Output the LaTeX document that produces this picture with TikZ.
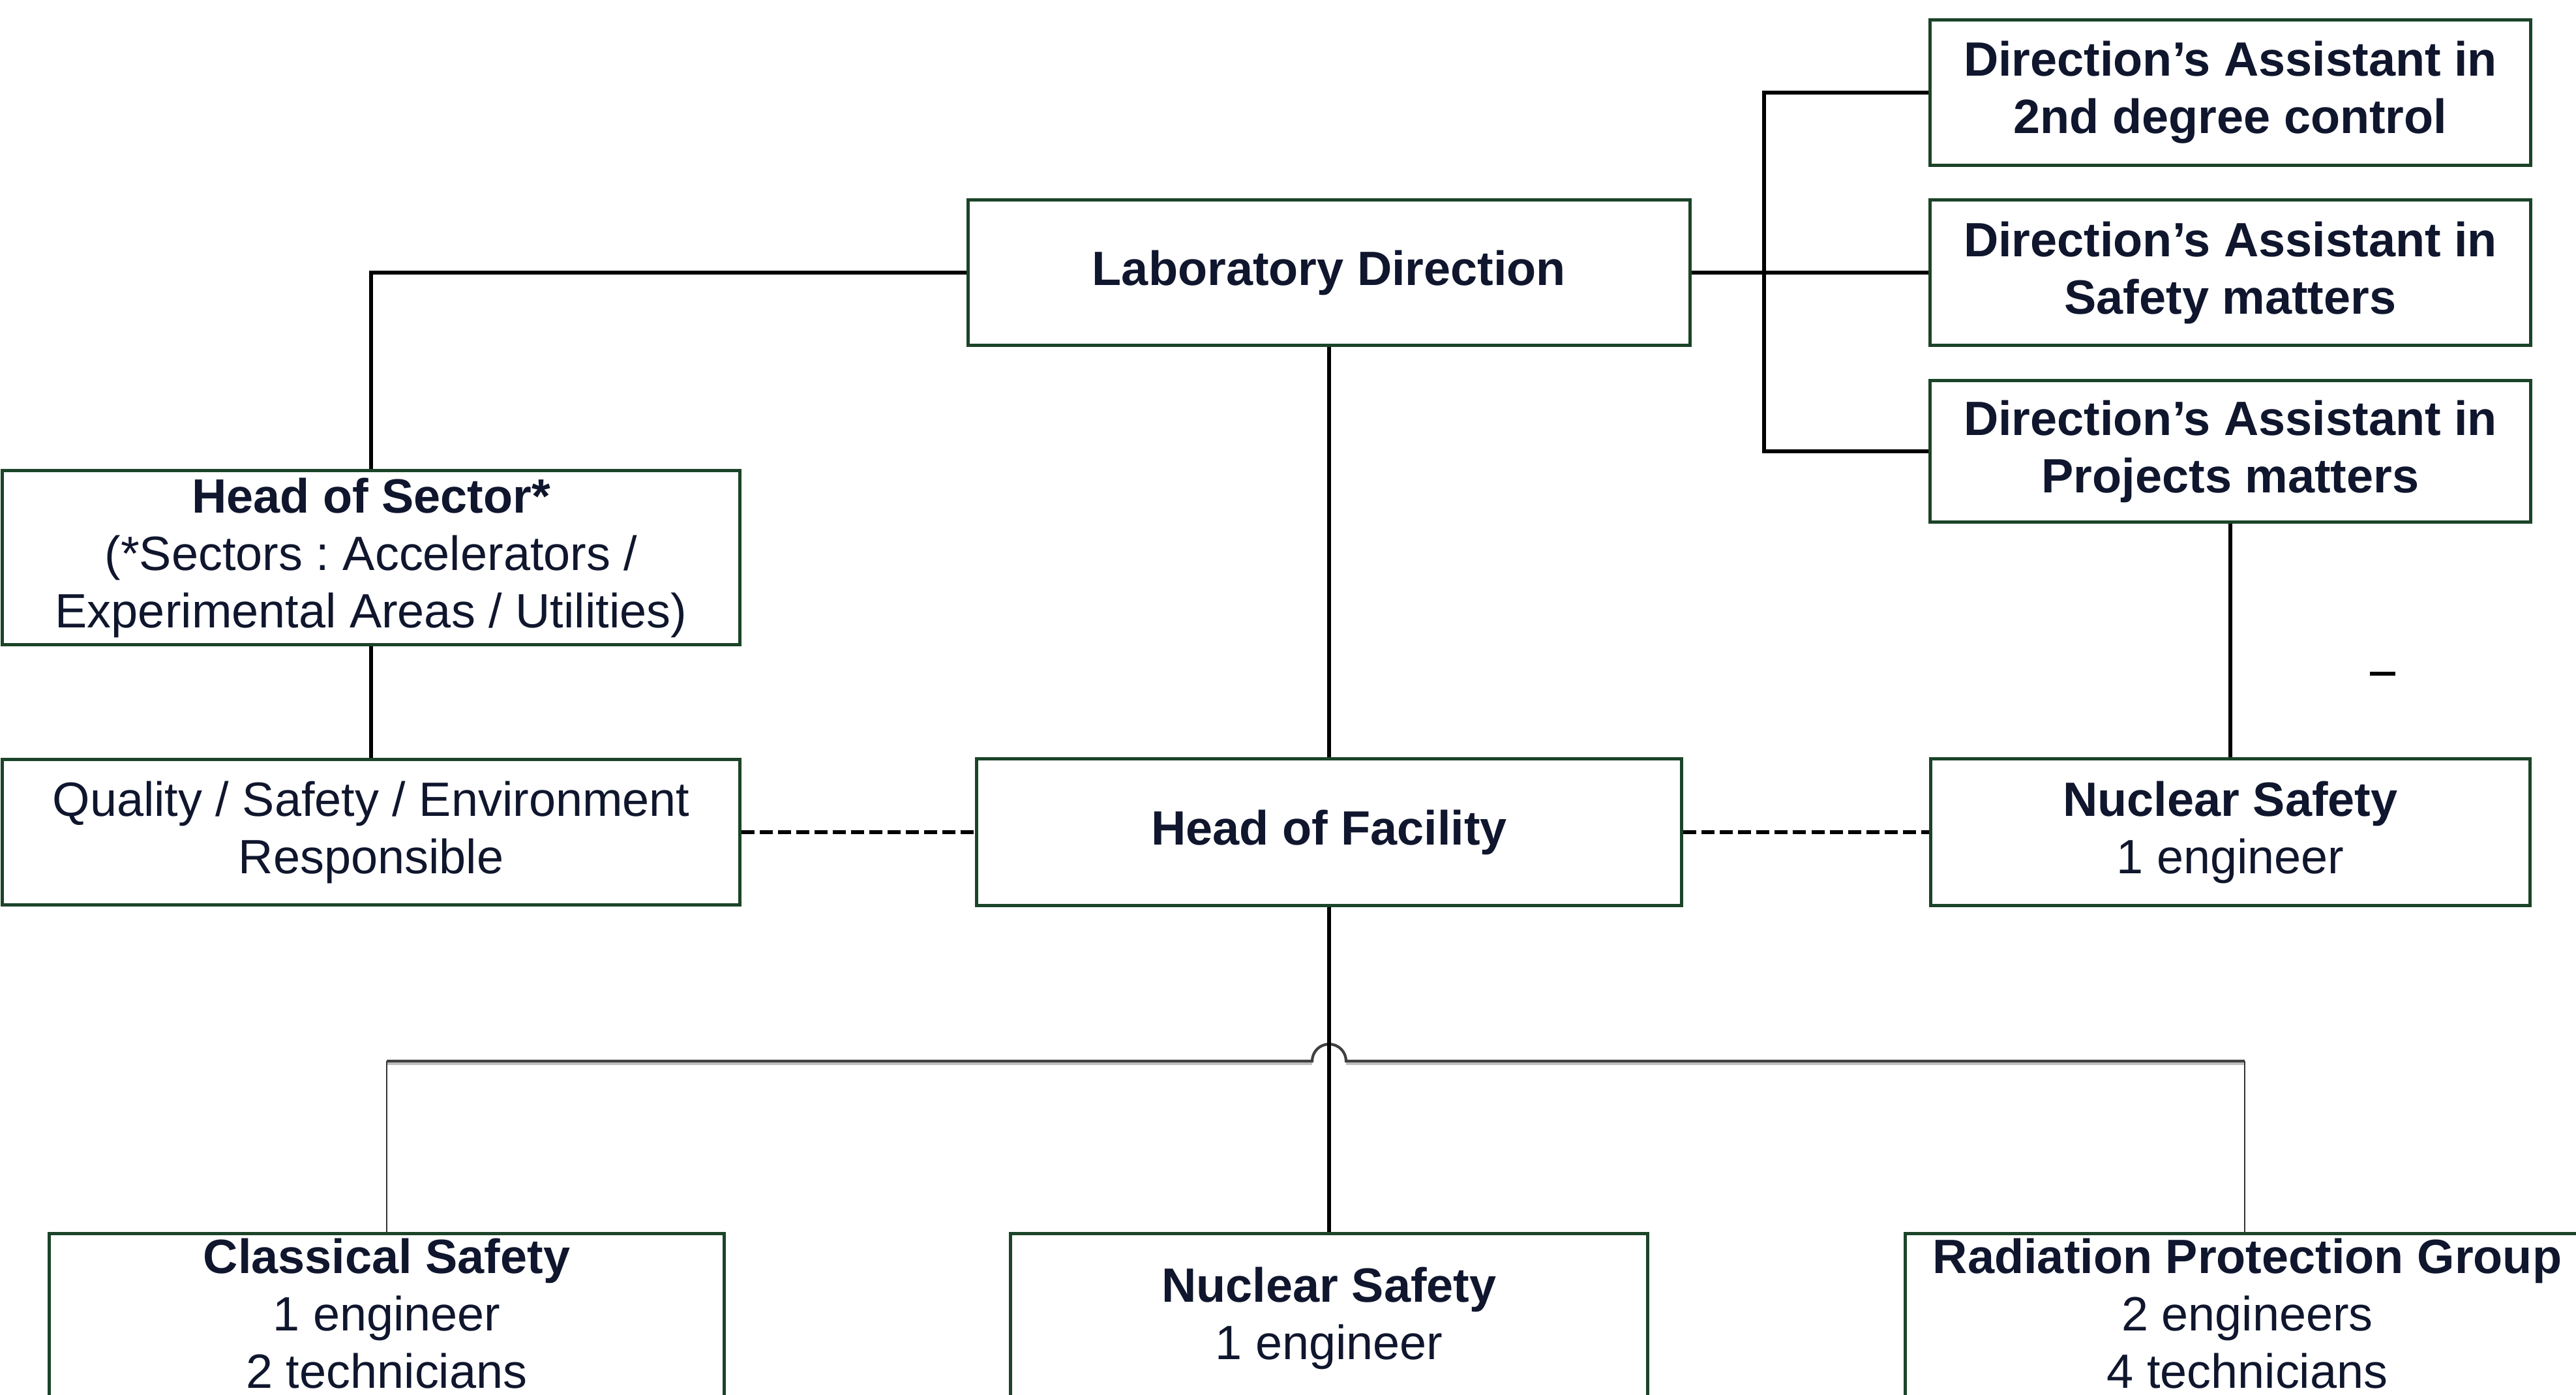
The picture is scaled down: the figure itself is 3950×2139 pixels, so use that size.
\documentclass[tikz,border=0pt]{standalone}
\usepackage{fontspec}
\setmainfont{Liberation Sans}
\frenchspacing
\definecolor{boxgreen}{RGB}{27,68,40}
\definecolor{txt}{RGB}{15,22,45}
\begin{document}
\begin{tikzpicture}[x=0.01cm,y=-0.01cm,
  box/.style={draw=boxgreen,line width=1.45pt,fill=white,inner sep=0pt,align=center,text=txt,font=\fontsize{21pt}{25pt}\selectfont\frenchspacing},
  plain/.style={inner sep=0pt,align=center,text=txt,font=\fontsize{21pt}{25pt}\selectfont\frenchspacing},
  conn/.style={line width=1.45pt,black},
  dashline/.style={line width=1.6pt,black,dash pattern=on 0.2cm off 0.08cm},
  bar/.style={line width=1.2pt,color=black!75},
  barshadow/.style={line width=1.3pt,color=black!25},
  drop/.style={line width=0.8pt,color=black!80}]
\useasboundingbox (0,0) rectangle (3950,2139);
\clip (0,0) rectangle (3950,2139);

% top row
\node[box,minimum width=11.06cm,minimum height=2.22cm] (labdir) at (2038,418) {\bfseries Laboratory Direction};
\node[box,minimum width=9.20cm,minimum height=2.22cm] (da1) at (3420,142) {\bfseries Direction's Assistant in\\\bfseries 2nd degree control};
\node[box,minimum width=9.20cm,minimum height=2.22cm] (da2) at (3420,418) {\bfseries Direction's Assistant in\\\bfseries Safety matters};
\node[box,minimum width=9.20cm,minimum height=2.17cm] (da3) at (3420,692) {\bfseries Direction's Assistant in\\\bfseries Projects matters};

% left column
\node[box,minimum width=11.30cm,minimum height=2.67cm] (hos) at (569,855) {\bfseries Head of Sector*\\(*Sectors : Accelerators /\\Experimental Areas / Utilities)};
\node[box,minimum width=11.30cm,minimum height=2.22cm] (qse) at (569,1276) {Quality / Safety / Environment\\Responsible};

% middle row
\node[box,minimum width=10.81cm,minimum height=2.24cm] (hof) at (2038,1276) {\bfseries Head of Facility};
\node[box,minimum width=9.19cm,minimum height=2.24cm] (nsr) at (3420,1276) {\bfseries Nuclear Safety\\1 engineer};

% bottom row (boxes cut by the page edge)
\node[box,minimum width=10.35cm,minimum height=4.00cm,anchor=north] (cs) at (593,1889) {};
\node[plain,anchor=north] (cst) at (593,1898) {\bfseries Classical Safety\\1 engineer\\2 technicians};
\node[box,minimum width=9.77cm,minimum height=4.00cm,anchor=north] (nsb) at (2038,1889) {};
\node[plain,anchor=north] (nsbt) at (2038,1942) {\bfseries Nuclear Safety\\1 engineer};
\node[box,minimum width=10.40cm,minimum height=4.00cm,anchor=north] (rp) at (3442,1889) {};
\node[plain,anchor=north] (rpt) at (3446,1898) {\bfseries Radiation Protection Group\\2 engineers\\4 technicians};

% connectors
\coordinate (bus) at (2705,418);
\coordinate (hopy) at (0,1627);
\draw[conn] (labdir.west) -| (hos.north);
\draw[conn] (hos.south) -- (qse.north);
\draw[conn] (labdir.east) -- (da2.west);
\draw[conn] (da1.west) -| (bus) |- (da3.west);
\draw[conn] (labdir.south) -- (hof.north);
\draw[conn] (da3.south) -- (nsr.north);
\draw[dashline] (qse.east) -- (hof.west);
\draw[dashline] (hof.east) -- (nsr.west);

\draw[barshadow] ([yshift=-0.04cm]cs.north |- hopy) -- ([yshift=-0.04cm]2012,1627) ([yshift=-0.04cm]2064,1627) -- ([yshift=-0.04cm]rp.north |- hopy);
\draw[bar] (cs.north |- hopy) -- (2012,1627) arc[start angle=180,end angle=0,radius=0.26cm] -- (rp.north |- hopy);
\draw[drop] (cs.north |- hopy) -- (cs.north);
\draw[drop] (rp.north |- hopy) -- (rp.north);
\draw[conn] (hof.south) -- (nsb.north);

% stray mark
\coordinate (mk1) at (3634,1033);
\coordinate (mk2) at (3673,1033);
\draw[line width=0.06cm] (mk1) -- (mk2);
\end{tikzpicture}
\end{document}
